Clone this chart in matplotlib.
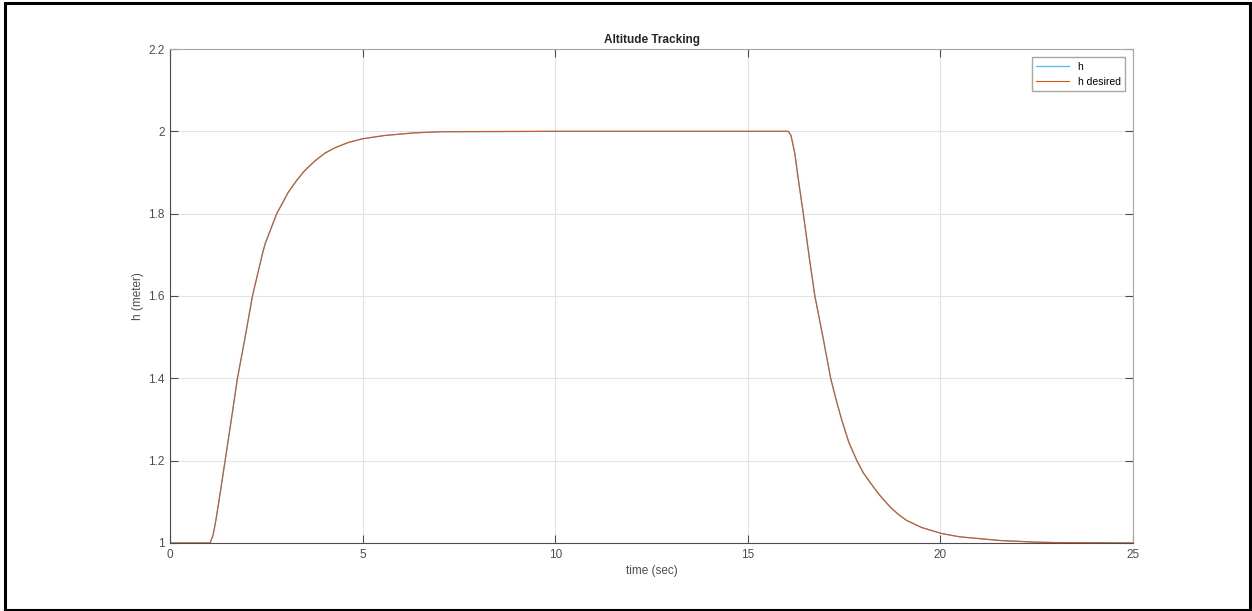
""" Altitude tracking: h vs h desired """

import matplotlib
matplotlib.use('Agg')
import matplotlib.pyplot as plt
from matplotlib.patches import Rectangle

# values
time = [0, 1.0, 1.04, 1.12, 1.19, 1.30, 1.43, 1.60, 1.75, 1.95, 2.14, 2.40,
        2.47, 2.77, 3.07, 3.29, 3.50, 3.76, 4.02, 4.28, 4.63, 5.0, 5.58,
        6.3, 7.0, 10, 15, 16.0, 16.05, 16.12, 16.22, 16.30, 16.44, 16.60,
        16.74, 16.95, 17.15, 17.30, 17.44, 17.62, 17.83, 18.0, 18.26,
        18.45, 18.69, 18.9, 19.12, 19.5, 20.03, 20.5, 21.55, 22.5, 23.0, 25]
h_desired = [1, 1, 1, 1.02, 1.055, 1.12, 1.2, 1.305, 1.4, 1.50, 1.6, 1.703,
             1.727, 1.8, 1.852, 1.881, 1.905, 1.928, 1.947, 1.960, 1.973,
             1.982, 1.99, 1.996, 1.999, 2, 2, 2, 2, 1.99, 1.946, 1.89, 1.8,
             1.69, 1.6, 1.5, 1.4, 1.345, 1.298, 1.245, 1.2, 1.17, 1.136,
             1.113, 1.088, 1.07, 1.055, 1.038, 1.023, 1.015, 1.006, 1.002,
             1.001, 1]
h = list(h_desired)

X_TICKS = [0, 5, 10, 15, 20, 25]
Y_TICKS = [1, 1.2, 1.4, 1.6, 1.8, 2, 2.2]
Y_LABELS = ['1', '1.2', '1.4', '1.6', '1.8', '2', '2.2']

plt.rcParams['font.family'] = ['Liberation Sans', 'DejaVu Sans']

fig = plt.figure(figsize=(12.52, 6.11), dpi=100)
ax = fig.add_axes([0.1358, 0.1113, 0.7692, 0.8085])

ax.plot(time, h, color='#4DBEEE', linewidth=0.9, label='h')
ax.plot(time, h_desired, color='#D95319', linewidth=0.8, label='h desired')

ax.set_xlim(0, 25)
ax.set_ylim(1, 2.2)
ax.set_xticks(X_TICKS)
ax.set_yticks(Y_TICKS)
ax.set_yticklabels(Y_LABELS)
ax.grid(True, color='#e3e3e3', linewidth=0.8)
ax.set_axisbelow(True)

ax.tick_params(direction='in', length=6, width=0.8, labelsize=8.5,
               colors='#4d4d4d', top=True, right=True, pad=4)
for side in ('left', 'bottom'):
    ax.spines[side].set_color('#4d4d4d')
for side in ('top', 'right'):
    ax.spines[side].set_color('#a6a6a6')

ax.set_title('Altitude Tracking', fontsize=8.5, fontweight='bold',
             color='#262626', pad=4)
ax.set_xlabel('time (sec)', fontsize=8.5, color='#4d4d4d', labelpad=3)
ax.set_ylabel('h (meter)', fontsize=8.5, color='#4d4d4d', labelpad=3)

ax.legend(loc='upper right', fontsize=7.5, handlelength=3.2, fancybox=False,
          edgecolor='#a6a6a6', framealpha=1, borderaxespad=0.8)

# outer frame of the screenshot
fig.patches.append(Rectangle((0.004, 0.0016), 0.9944, 0.9935,
                             transform=fig.transFigure, fill=False,
                             edgecolor='black', linewidth=2.2))

fig.savefig('out.png', dpi=100)
